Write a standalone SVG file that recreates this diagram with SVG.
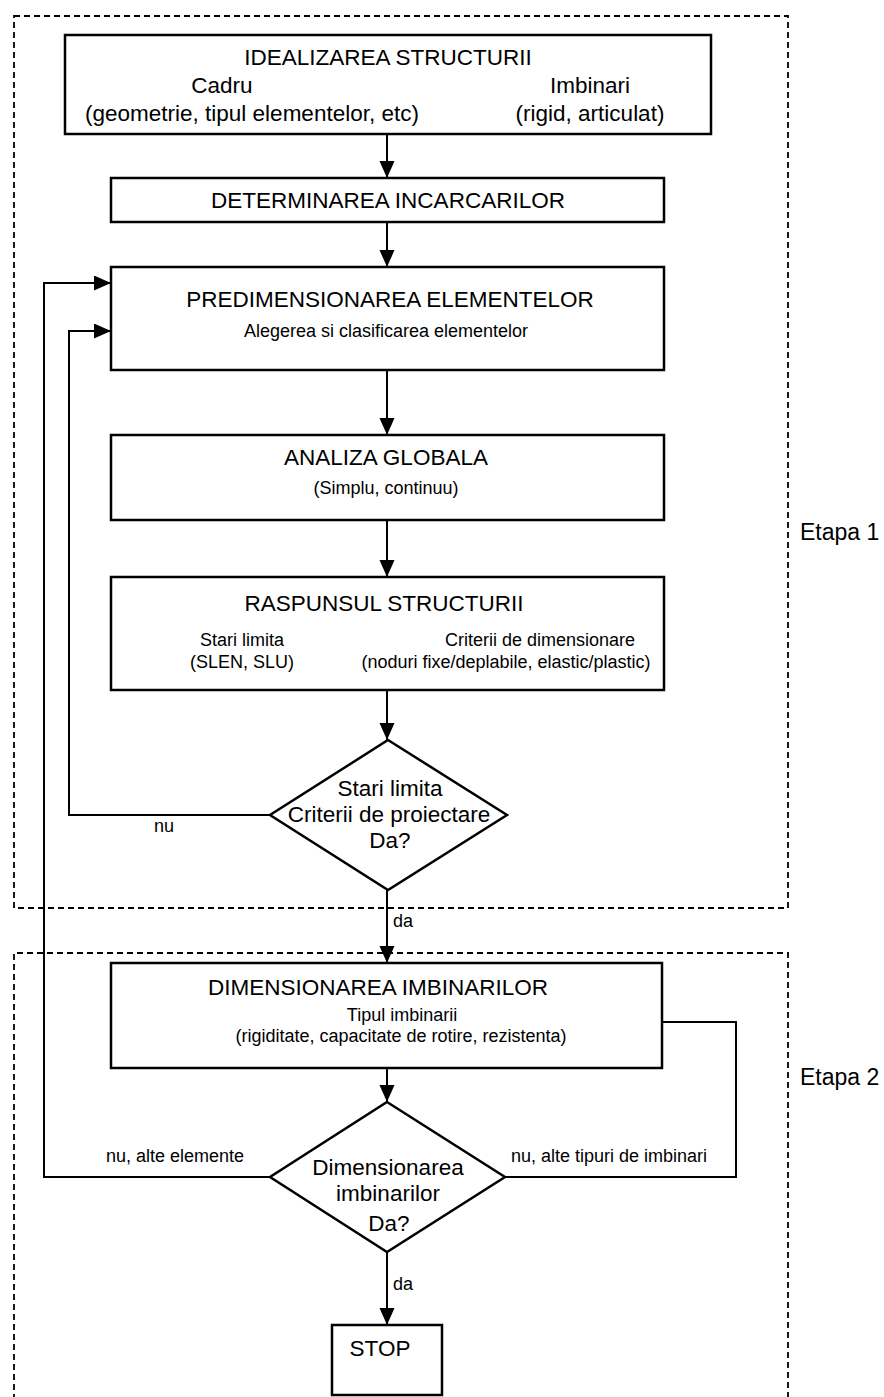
<svg xmlns="http://www.w3.org/2000/svg" width="884" height="1397" viewBox="0 0 884 1397">
<style>
text{font-family:"Liberation Sans",Arial,sans-serif;fill:#000;text-anchor:middle}
.t{font-size:22.5px}
.s{font-size:18px}
.l{text-anchor:start}
.box{fill:#fff;stroke:#000;stroke-width:2.5}
.dash{fill:none;stroke:#000;stroke-width:1.8;stroke-dasharray:6,4}
.c{fill:none;stroke:#000;stroke-width:2}
</style>
<defs>
<marker id="ar" markerUnits="userSpaceOnUse" markerWidth="18" markerHeight="16" refX="17" refY="7.5" orient="auto">
<path d="M0,0 L17,7.5 L0,15 z" fill="#000"/>
</marker>
</defs>
<g id="etapa1">
<rect class="dash" x="14" y="16" width="774" height="892"/>
<text class="l" x="800" y="540" style="font-size:23px">Etapa 1</text>
</g>
<g id="etapa2">
<path class="dash" d="M14,1400 L14,953 L788,953 L788,1400"/>
<text class="l" x="800" y="1085" style="font-size:23px">Etapa 2</text>
</g>
<g id="connectors">
<path class="c" d="M387,134 L387,178" marker-end="url(#ar)"/>
<path class="c" d="M387,222 L387,267" marker-end="url(#ar)"/>
<path class="c" d="M387,370 L387,435" marker-end="url(#ar)"/>
<path class="c" d="M387,520 L387,577" marker-end="url(#ar)"/>
<path class="c" d="M387,690 L387,740" marker-end="url(#ar)"/>
<path class="c" d="M387,890 L387,963" marker-end="url(#ar)"/>
<path class="c" d="M387,1068 L387,1102" marker-end="url(#ar)"/>
<path class="c" d="M387,1252 L387,1325" marker-end="url(#ar)"/>
<path class="c" d="M270,815 L69,815 L69,331 L111,331" marker-end="url(#ar)"/>
<path class="c" d="M270,1177 L44,1177 L44,283 L111,283" marker-end="url(#ar)"/>
<path class="c" d="M662,1022 L736,1022 L736,1177 L505,1177"/>
<text class="s" x="164" y="832">nu</text>
<text class="s l" x="393" y="927">da</text>
<text class="s" x="175" y="1162">nu, alte elemente</text>
<text class="s" x="609" y="1162">nu, alte tipuri de imbinari</text>
<text class="s l" x="393" y="1290">da</text>
</g>
<g id="idealizarea">
<rect class="box" x="65" y="35" width="646" height="99"/>
<text class="t" x="388" y="65">IDEALIZAREA STRUCTURII</text>
<text class="t" x="222" y="93">Cadru</text>
<text class="t" x="590" y="93">Imbinari</text>
<text class="t" x="252" y="121">(geometrie, tipul elementelor, etc)</text>
<text class="t" x="590" y="121">(rigid, articulat)</text>
</g>
<g id="determinarea">
<rect class="box" x="111" y="178" width="553" height="44"/>
<text class="t" x="388" y="208">DETERMINAREA INCARCARILOR</text>
</g>
<g id="predimensionarea">
<rect class="box" x="111" y="267" width="553" height="103"/>
<text class="t" x="390" y="307">PREDIMENSIONAREA ELEMENTELOR</text>
<text class="s" x="386" y="337">Alegerea si clasificarea elementelor</text>
</g>
<g id="analiza">
<rect class="box" x="111" y="435" width="553" height="85"/>
<text class="t" x="386" y="465">ANALIZA GLOBALA</text>
<text class="s" x="386" y="494">(Simplu, continuu)</text>
</g>
<g id="raspunsul">
<rect class="box" x="111" y="577" width="553" height="113"/>
<text class="t" x="384" y="611">RASPUNSUL STRUCTURII</text>
<text class="s" x="242" y="646">Stari limita</text>
<text class="s" x="242" y="668">(SLEN, SLU)</text>
<text class="s" x="540" y="646">Criterii de dimensionare</text>
<text class="s" x="506" y="668">(noduri fixe/deplabile, elastic/plastic)</text>
</g>
<g id="decizie1">
<polygon class="box" points="388,740 507,815 388,890 270,815"/>
<text class="t" x="390" y="796">Stari limita</text>
<text class="t" x="389" y="822">Criterii de proiectare</text>
<text class="t" x="390" y="848">Da?</text>
</g>
<g id="dimensionarea">
<rect class="box" x="111" y="963" width="551" height="105"/>
<text class="t" x="378" y="995">DIMENSIONAREA IMBINARILOR</text>
<text class="s" x="402" y="1021">Tipul imbinarii</text>
<text class="s" x="401" y="1042">(rigiditate, capacitate de rotire, rezistenta)</text>
</g>
<g id="decizie2">
<polygon class="box" points="387,1102 505,1177 387,1252 270,1177"/>
<text class="t" x="388" y="1175">Dimensionarea</text>
<text class="t" x="388" y="1201">imbinarilor</text>
<text class="t" x="389" y="1231">Da?</text>
</g>
<g id="stop">
<rect class="box" x="332" y="1325" width="110" height="70"/>
<text class="t" x="380" y="1356">STOP</text>
</g>
</svg>
